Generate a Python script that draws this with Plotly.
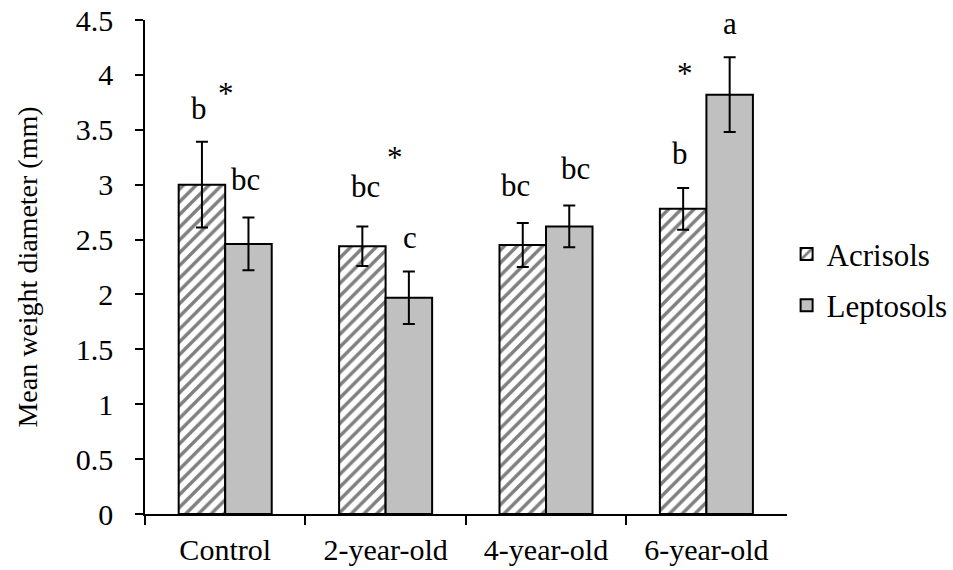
import plotly.graph_objects as go

# Mean weight diameter of soil aggregates by stand age
categories = ["Control", "2-year-old", "4-year-old", "6-year-old"]
acrisols_mwd = [3.00, 2.44, 2.45, 2.78]
acrisols_err = [0.39, 0.18, 0.20, 0.19]
leptosols_mwd = [2.46, 1.97, 2.62, 3.82]
leptosols_err = [0.24, 0.24, 0.19, 0.34]

# significance letters and soil-type difference markers
acrisols_letters = ["b", "bc", "bc", "b"]
leptosols_letters = ["bc", "c", "bc", "a"]
soil_difference = ["*", "*", "", "*"]

# label placement (baseline in data units, horizontal shift in px)
acrisols_label_y = [3.59, 2.88, 2.89, 3.18]
acrisols_label_dx = [-26, -20, -31, -26]
leptosols_label_y = [2.94, 2.41, 3.04, 4.36]
leptosols_label_dx = [20, 24, 29, 24]
star_y = [3.73, 3.14, None, 3.91]
star_dx = [1, 9, 0, -21]


def serif(size, family="Liberation Serif"):
    return dict(family=family, size=size, color="black")


fig = go.Figure()
fig.add_trace(go.Bar(
    x=categories, y=acrisols_mwd, name="Acrisols", legendgroup="a",
    marker=dict(color="white", line=dict(color="black", width=2),
                pattern=dict(shape="/", fgcolor="black", bgcolor="white",
                             size=9, solidity=0.38)),
    error_y=dict(type="data", array=acrisols_err, color="black",
                 thickness=2, width=6),
))
fig.add_trace(go.Bar(
    x=categories, y=leptosols_mwd, name="Leptosols", legendgroup="b",
    marker=dict(color="#c0c0c0", line=dict(color="black", width=2)),
    error_y=dict(type="data", array=leptosols_err, color="black",
                 thickness=2, width=6),
))

annotations = []
for i, cat in enumerate(categories):
    annotations.append(dict(x=cat, y=acrisols_label_y[i], text=acrisols_letters[i],
                            xshift=acrisols_label_dx[i], yshift=-8, font=serif(31),
                            yanchor="bottom", showarrow=False))
    annotations.append(dict(x=cat, y=leptosols_label_y[i], text=leptosols_letters[i],
                            xshift=leptosols_label_dx[i], yshift=-8, font=serif(31),
                            yanchor="bottom", showarrow=False))
    if soil_difference[i]:
        annotations.append(dict(x=cat, y=star_y[i], text=soil_difference[i],
                                xshift=star_dx[i], yshift=-8, font=serif(31),
                                yanchor="bottom", showarrow=False))

# plot area spans 145..789 px horizontally; the legend sits in the paper to its right
PAPER_W = 953 - 145
fig.update_layout(
    width=953, height=570,
    margin=dict(l=145, r=0, t=20, b=56),
    paper_bgcolor="white", plot_bgcolor="white",
    font=serif(30),
    barmode="group", bargap=0.42, bargroupgap=0,
    showlegend=True,
    legend=dict(x=(789 - 145) / PAPER_W, xanchor="left",
                y=0.474, yanchor="middle",
                font=serif(31), tracegroupgap=8,
                bgcolor="rgba(0,0,0,0)"),
    annotations=annotations,
)
fig.update_xaxes(
    domain=[0, (789 - 145) / PAPER_W],
    showline=True, linecolor="black", linewidth=1.5,
    ticks="outside", ticklen=9, tickwidth=1.5, tickcolor="black",
    tickson="boundaries", showgrid=False, automargin=False,
    tickfont=serif(30), ticklabelstandoff=8,
)
fig.update_yaxes(
    range=[0, 4.5], dtick=0.5,
    showline=True, linecolor="black", linewidth=1.5,
    ticks="outside", ticklen=8, tickwidth=1.5, tickcolor="black",
    showgrid=False, zeroline=False,
    tickfont=serif(30), ticklabelstandoff=16,
    title=dict(text="Mean weight diameter (mm)", font=serif(28), standoff=30),
)

fig.write_html("out.html")
